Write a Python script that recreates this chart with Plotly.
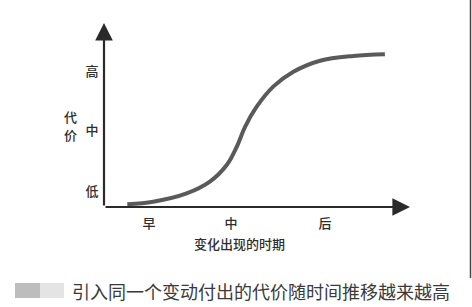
import plotly.graph_objects as go

# Curve values (time 0-100, cost 0-100)
time_vals = [7.6, 16.1, 27.0, 34.6, 40.1, 43.4, 46.1, 49.9, 55.3, 61.9, 70.6, 81.5, 91.8]
cost_vals = [1.5, 2.9, 7.4, 13.8, 22.8, 32.8, 43.6, 54.5, 65.4, 73.5, 79.5, 82.1, 83.0]

x_tick_pos = [14.7, 41.5, 72.2]
x_tick_labels = ["早", "中", "后"]
y_tick_pos = [8.2, 41.8, 73.9]
y_tick_labels = ["低", "中", "高"]

x_title = "变化出现的时期"
y_title = "代价"
caption = "引入同一个变动付出的代价随时间推移越来越高"

W, H = 472, 307
x0, x1 = 104, 410   # pixel extent of x axis
y0, y1 = 207, 23    # pixel extent of y axis (bottom, top)

FONT = "Noto Sans CJK SC"

fig = go.Figure()
fig.add_trace(go.Scatter(
    x=time_vals, y=cost_vals, mode="lines",
    line=dict(color="#5a5a5a", width=4, shape="spline", smoothing=1.0),
    hoverinfo="skip", showlegend=False,
))

fig.update_layout(
    width=W, height=H,
    margin=dict(l=0, r=0, t=0, b=0),
    paper_bgcolor="white", plot_bgcolor="white",
    xaxis=dict(
        domain=[x0 / W, x1 / W], range=[0, 100],
        showgrid=False, zeroline=False, showline=False,
        tickvals=x_tick_pos, ticktext=x_tick_labels,
        ticks="outside", ticklen=4, tickcolor="rgba(0,0,0,0)",
        tickfont=dict(family=FONT, size=13, color="#2e2e2e", weight=500),
    ),
    yaxis=dict(
        domain=[1 - y0 / H, 1 - y1 / H], range=[0, 100],
        showgrid=False, zeroline=False, showline=False,
        tickvals=y_tick_pos, ticktext=y_tick_labels,
        ticks="outside", ticklen=2, tickcolor="rgba(0,0,0,0)",
        tickfont=dict(family=FONT, size=13, color="#2e2e2e", weight=500),
    ),
)

# axis arrows
fig.add_annotation(x=100, y=0, ax=0, ay=0, xref="x", yref="y", axref="x", ayref="y",
                   showarrow=True, arrowhead=2, arrowsize=1.6, arrowwidth=2.2,
                   arrowcolor="#2a2a2a", text="")
fig.add_annotation(x=0, y=100, ax=0, ay=0, xref="x", yref="y", axref="x", ayref="y",
                   showarrow=True, arrowhead=2, arrowsize=1.6, arrowwidth=2.2,
                   arrowcolor="#2a2a2a", text="")

# axis titles
fig.add_annotation(x=239 / W, y=1 - 243 / H, xref="paper", yref="paper",
                   xanchor="center", yanchor="middle",
                   text=x_title, showarrow=False,
                   font=dict(family=FONT, size=13, color="#2e2e2e", weight=500))
for i, ch in enumerate(y_title):
    fig.add_annotation(x=70 / W, y=1 - (117 + 17 * i) / H, xref="paper", yref="paper",
                       xanchor="center", yanchor="middle",
                       text=ch, showarrow=False,
                       font=dict(family=FONT, size=13, color="#2e2e2e", weight=500))

# caption and blurred avatar
fig.add_shape(type="rect", xref="paper", yref="paper",
              x0=15 / W, x1=40 / W, y0=1 - 298 / H, y1=1 - 283 / H,
              fillcolor="#bdbdbd", line=dict(width=0))
fig.add_shape(type="rect", xref="paper", yref="paper",
              x0=40 / W, x1=64 / W, y0=1 - 298 / H, y1=1 - 283 / H,
              fillcolor="#e4e4e4", line=dict(width=0))
fig.add_annotation(x=70 / W, y=1 - 291 / H, xref="paper", yref="paper",
                   xanchor="left", yanchor="middle",
                   text=caption, showarrow=False,
                   font=dict(family=FONT, size=18, color="#3a3a3a"))

# right border line
fig.add_shape(type="line", xref="paper", yref="paper",
              x0=470.5 / W, x1=470.5 / W, y0=1 - 278 / H, y1=1,
              line=dict(color="#444", width=1.5))

fig.write_html("out.html")
